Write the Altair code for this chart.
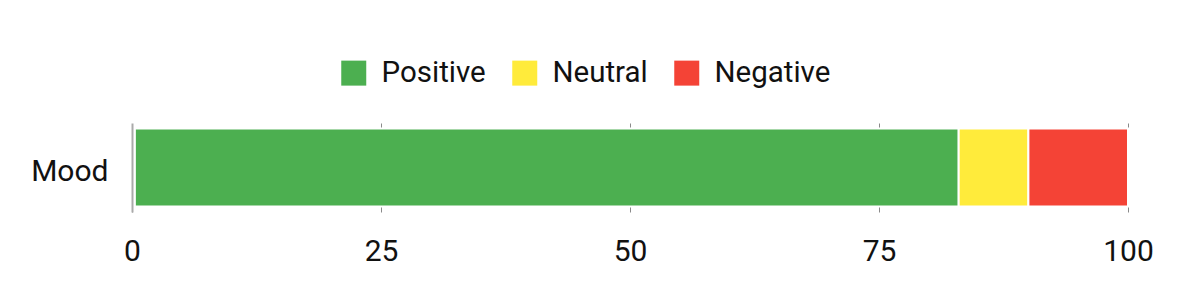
import altair as alt
import pandas as pd

categories = ["Mood", "Mood", "Mood"]
sentiments = ["Positive", "Neutral", "Negative"]
values = [83, 7, 10]
order = [0, 1, 2]
colors = ["#4CAF50", "#FFEB3B", "#F44336"]

df = pd.DataFrame({"category": categories, "sentiment": sentiments, "value": values, "order": order})

bars = alt.Chart(df).mark_bar(stroke="white", strokeWidth=2).encode(
    x=alt.X("value:Q", stack="zero",
            scale=alt.Scale(domain=[0, 100], nice=False),
            axis=alt.Axis(values=[0, 25, 50, 75, 100], title=None, ticks=False, domain=False,
                          grid=True, gridColor="#8a8a8a", gridWidth=1,
                          labelFontSize=30, labelColor="#111", labelPadding=24,
                          labelFont="Roboto", labelFlush=False)),
    y=alt.Y("category:N",
            scale=alt.Scale(paddingInner=0, paddingOuter=0.07),
            axis=alt.Axis(title=None, ticks=False, domain=True, domainColor="#aaaaaa", domainWidth=2,
                          grid=False, zindex=1, labelOffset=4,
                          labelFontSize=30, labelColor="#111", labelPadding=24,
                          labelFont="Roboto")),
    color=alt.Color("sentiment:N",
                    scale=alt.Scale(domain=sentiments, range=colors),
                    legend=alt.Legend(title=None, orient="none", direction="horizontal",
                                      legendX=207, legendY=-65,
                                      symbolType="square", symbolSize=625,
                                      symbolStrokeWidth=0, symbolOpacity=1,
                                      labelFontSize=29.5, labelFont="Roboto", labelColor="#111",
                                      labelOffset=13, columnPadding=24)),
    order=alt.Order("order:Q"),
)

gap = alt.Chart(df).mark_rule(color="white", strokeWidth=7).encode(x=alt.datum(0))

chart = alt.layer(bars, gap).properties(
    width=996, height=89,
    autosize=alt.AutoSizeParams(type="none"),
    padding={"left": 132, "top": 123, "right": 72, "bottom": 88},
).configure(font="Roboto").configure_view(stroke=None)

chart.save("out.html", embed_options={"renderer": "svg", "actions": False})
